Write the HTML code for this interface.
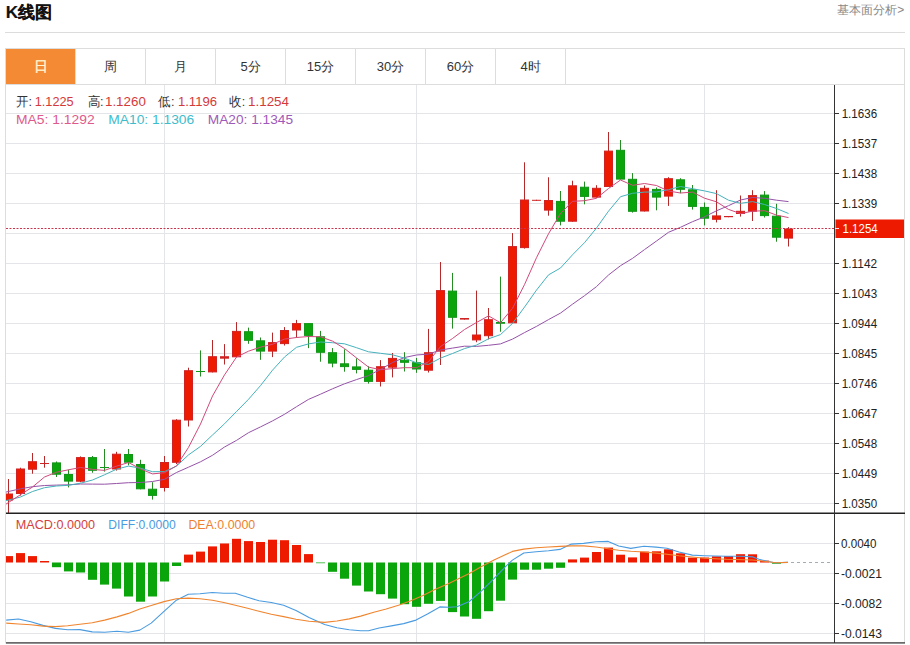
<!DOCTYPE html><html><head><meta charset="utf-8"><style>
html,body{margin:0;padding:0;background:#fff;width:910px;height:645px;overflow:hidden}
svg{display:block}
text{font-family:"Liberation Sans",sans-serif}
</style></head><body>
<svg width="910" height="645" viewBox="0 0 910 645">
<rect x="0" y="0" width="910" height="645" fill="#fff"/>

<text x="5.8" y="18.2" font-size="17" font-weight="bold" fill="#111" stroke="#111" stroke-width="0.15" textLength="46.5" lengthAdjust="spacingAndGlyphs">K线图</text>
<text x="837.3" y="14.4" font-size="12" fill="#888" textLength="67" lengthAdjust="spacingAndGlyphs">基本面分析&gt;</text>
<rect x="5" y="32" width="900" height="1" fill="#dcdcdc"/>
<rect x="5.5" y="48.5" width="899" height="594.5" fill="none" stroke="#ddd" stroke-width="1"/>
<rect x="6" y="49" width="69" height="35" fill="#f48a34"/>
<line x1="5.5" y1="84.5" x2="904.5" y2="84.5" stroke="#ddd" stroke-width="1"/>
<line x1="75.5" y1="48.5" x2="75.5" y2="84.5" stroke="#ddd"/>
<text x="40.5" y="71.3" font-size="14" fill="#fff6d0" stroke="#fff6d0" stroke-width="0.4" text-anchor="middle">日</text>
<line x1="145.5" y1="48.5" x2="145.5" y2="84.5" stroke="#ddd"/>
<text x="110.5" y="71.3" font-size="13" fill="#333" text-anchor="middle">周</text>
<line x1="215.5" y1="48.5" x2="215.5" y2="84.5" stroke="#ddd"/>
<text x="180.5" y="71.3" font-size="13" fill="#333" text-anchor="middle">月</text>
<line x1="285.5" y1="48.5" x2="285.5" y2="84.5" stroke="#ddd"/>
<text x="250.5" y="71.3" font-size="13" fill="#333" text-anchor="middle">5分</text>
<line x1="355.5" y1="48.5" x2="355.5" y2="84.5" stroke="#ddd"/>
<text x="320.5" y="71.3" font-size="13" fill="#333" text-anchor="middle">15分</text>
<line x1="425.5" y1="48.5" x2="425.5" y2="84.5" stroke="#ddd"/>
<text x="390.5" y="71.3" font-size="13" fill="#333" text-anchor="middle">30分</text>
<line x1="495.5" y1="48.5" x2="495.5" y2="84.5" stroke="#ddd"/>
<text x="460.5" y="71.3" font-size="13" fill="#333" text-anchor="middle">60分</text>
<line x1="565.5" y1="48.5" x2="565.5" y2="84.5" stroke="#ddd"/>
<text x="530.5" y="71.3" font-size="13" fill="#333" text-anchor="middle">4时</text>
<line x1="6" y1="113.5" x2="834" y2="113.5" stroke="#e4e5e9"/>
<line x1="6" y1="143.5" x2="834" y2="143.5" stroke="#e4e5e9"/>
<line x1="6" y1="173.5" x2="834" y2="173.5" stroke="#e4e5e9"/>
<line x1="6" y1="203.5" x2="834" y2="203.5" stroke="#e4e5e9"/>
<line x1="6" y1="233.5" x2="834" y2="233.5" stroke="#e4e5e9"/>
<line x1="6" y1="263.5" x2="834" y2="263.5" stroke="#e4e5e9"/>
<line x1="6" y1="293.5" x2="834" y2="293.5" stroke="#e4e5e9"/>
<line x1="6" y1="323.5" x2="834" y2="323.5" stroke="#e4e5e9"/>
<line x1="6" y1="353.5" x2="834" y2="353.5" stroke="#e4e5e9"/>
<line x1="6" y1="383.5" x2="834" y2="383.5" stroke="#e4e5e9"/>
<line x1="6" y1="413.5" x2="834" y2="413.5" stroke="#e4e5e9"/>
<line x1="6" y1="443.5" x2="834" y2="443.5" stroke="#e4e5e9"/>
<line x1="6" y1="473.5" x2="834" y2="473.5" stroke="#e4e5e9"/>
<line x1="6" y1="503.5" x2="834" y2="503.5" stroke="#e4e5e9"/>
<line x1="164.5" y1="85" x2="164.5" y2="643" stroke="#e4e5e9"/>
<line x1="416.5" y1="85" x2="416.5" y2="643" stroke="#e4e5e9"/>
<line x1="704.5" y1="85" x2="704.5" y2="643" stroke="#e4e5e9"/>
<line x1="6" y1="543.5" x2="834" y2="543.5" stroke="#e4e5e9"/>
<line x1="6" y1="573.5" x2="834" y2="573.5" stroke="#e4e5e9"/>
<line x1="6" y1="603.5" x2="834" y2="603.5" stroke="#e4e5e9"/>
<line x1="6" y1="633.5" x2="834" y2="633.5" stroke="#e4e5e9"/>
<defs><clipPath id="cm"><rect x="6" y="85" width="828" height="428"/></clipPath>
<clipPath id="cd"><rect x="6" y="514" width="828" height="129"/></clipPath></defs>
<g clip-path="url(#cm)">
<rect x="8.0" y="479" width="1" height="34" fill="#b42a2a"/>
<rect x="4.5" y="494.0" width="8" height="6.0" fill="#ee1a00" stroke="#d02222" stroke-width="1"/>
<rect x="20.0" y="467.7" width="1" height="27.900000000000034" fill="#b42a2a"/>
<rect x="16.5" y="469.0" width="8" height="24.5" fill="#ee1a00" stroke="#d02222" stroke-width="1"/>
<rect x="32.0" y="453" width="1" height="20.69999999999999" fill="#b42a2a"/>
<rect x="28.5" y="461.7" width="8" height="7.5" fill="#ee1a00" stroke="#d02222" stroke-width="1"/>
<rect x="44.0" y="456" width="1" height="11.699999999999989" fill="#b42a2a"/>
<rect x="40.0" y="463" width="9" height="1" fill="#d02222"/>
<rect x="56.0" y="461.5" width="1" height="15.5" fill="#238c23"/>
<rect x="52.5" y="462.9" width="8" height="11.300000000000011" fill="#0aa50a" stroke="#13951a" stroke-width="1"/>
<rect x="68.0" y="469.7" width="1" height="17.69999999999999" fill="#238c23"/>
<rect x="64.5" y="474.5" width="8" height="6.600000000000023" fill="#0aa50a" stroke="#13951a" stroke-width="1"/>
<rect x="80.0" y="456.4" width="1" height="25.80000000000001" fill="#b42a2a"/>
<rect x="76.5" y="457.6" width="8" height="23.599999999999966" fill="#ee1a00" stroke="#d02222" stroke-width="1"/>
<rect x="92.0" y="456" width="1" height="16.69999999999999" fill="#238c23"/>
<rect x="88.5" y="457.6" width="8" height="12.699999999999989" fill="#0aa50a" stroke="#13951a" stroke-width="1"/>
<rect x="104.0" y="449" width="1" height="22.600000000000023" fill="#238c23"/>
<rect x="100.0" y="467" width="9" height="1" fill="#13951a"/>
<rect x="116.0" y="451.8" width="1" height="18.80000000000001" fill="#b42a2a"/>
<rect x="112.5" y="454.2" width="8" height="14.800000000000011" fill="#ee1a00" stroke="#d02222" stroke-width="1"/>
<rect x="128.0" y="449" width="1" height="16.30000000000001" fill="#238c23"/>
<rect x="124.5" y="454.5" width="8" height="7.699999999999989" fill="#0aa50a" stroke="#13951a" stroke-width="1"/>
<rect x="140.0" y="459.8" width="1" height="29.5" fill="#238c23"/>
<rect x="136.5" y="464.5" width="8" height="24.30000000000001" fill="#0aa50a" stroke="#13951a" stroke-width="1"/>
<rect x="152.0" y="482.2" width="1" height="17.400000000000034" fill="#238c23"/>
<rect x="148.5" y="489.2" width="8" height="6.199999999999989" fill="#0aa50a" stroke="#13951a" stroke-width="1"/>
<rect x="164.0" y="456" width="1" height="35.5" fill="#b42a2a"/>
<rect x="160.5" y="462.5" width="8" height="25" fill="#ee1a00" stroke="#d02222" stroke-width="1"/>
<rect x="176.0" y="419.2" width="1" height="44.80000000000001" fill="#b42a2a"/>
<rect x="172.5" y="420.2" width="8" height="42.10000000000002" fill="#ee1a00" stroke="#d02222" stroke-width="1"/>
<rect x="188.0" y="367.7" width="1" height="58.80000000000001" fill="#b42a2a"/>
<rect x="184.5" y="370.7" width="8" height="49.30000000000001" fill="#ee1a00" stroke="#d02222" stroke-width="1"/>
<rect x="200.0" y="350.4" width="1" height="26.100000000000023" fill="#238c23"/>
<rect x="196.0" y="371" width="9" height="1" fill="#13951a"/>
<rect x="212.0" y="340" width="1" height="32.39999999999998" fill="#b42a2a"/>
<rect x="208.5" y="356.7" width="8" height="15.199999999999989" fill="#ee1a00" stroke="#d02222" stroke-width="1"/>
<rect x="224.0" y="344.1" width="1" height="20.399999999999977" fill="#b42a2a"/>
<rect x="220.0" y="356.2" width="9" height="2.5" fill="#d02222"/>
<rect x="236.0" y="322.1" width="1" height="35.19999999999999" fill="#b42a2a"/>
<rect x="232.5" y="331.4" width="8" height="25.400000000000034" fill="#ee1a00" stroke="#d02222" stroke-width="1"/>
<rect x="248.0" y="327.6" width="1" height="16.19999999999999" fill="#238c23"/>
<rect x="244.5" y="331.7" width="8" height="8.600000000000023" fill="#0aa50a" stroke="#13951a" stroke-width="1"/>
<rect x="260.0" y="337.5" width="1" height="22.30000000000001" fill="#238c23"/>
<rect x="256.5" y="340.8" width="8" height="10.300000000000011" fill="#0aa50a" stroke="#13951a" stroke-width="1"/>
<rect x="272.0" y="332.6" width="1" height="24.5" fill="#b42a2a"/>
<rect x="268.5" y="342.6" width="8" height="8.5" fill="#ee1a00" stroke="#d02222" stroke-width="1"/>
<rect x="284.0" y="327.1" width="1" height="18.399999999999977" fill="#b42a2a"/>
<rect x="280.5" y="330.5" width="8" height="13.100000000000023" fill="#ee1a00" stroke="#d02222" stroke-width="1"/>
<rect x="296.0" y="319.9" width="1" height="17.80000000000001" fill="#b42a2a"/>
<rect x="292.5" y="323.6" width="8" height="6.399999999999977" fill="#ee1a00" stroke="#d02222" stroke-width="1"/>
<rect x="308.0" y="323.1" width="1" height="25.0" fill="#238c23"/>
<rect x="304.5" y="323.6" width="8" height="11.799999999999955" fill="#0aa50a" stroke="#13951a" stroke-width="1"/>
<rect x="320.0" y="330.9" width="1" height="30.80000000000001" fill="#238c23"/>
<rect x="316.5" y="336.8" width="8" height="15.5" fill="#0aa50a" stroke="#13951a" stroke-width="1"/>
<rect x="332.0" y="348.1" width="1" height="19.19999999999999" fill="#238c23"/>
<rect x="328.5" y="352.7" width="8" height="10.400000000000034" fill="#0aa50a" stroke="#13951a" stroke-width="1"/>
<rect x="344.0" y="349.3" width="1" height="22.399999999999977" fill="#238c23"/>
<rect x="340.5" y="363.8" width="8" height="2.8000000000000114" fill="#0aa50a" stroke="#13951a" stroke-width="1"/>
<rect x="356.0" y="358.3" width="1" height="15.099999999999966" fill="#238c23"/>
<rect x="352.5" y="366.9" width="8" height="2.5" fill="#0aa50a" stroke="#13951a" stroke-width="1"/>
<rect x="368.0" y="366.2" width="1" height="17.400000000000034" fill="#238c23"/>
<rect x="364.5" y="370.2" width="8" height="11.199999999999989" fill="#0aa50a" stroke="#13951a" stroke-width="1"/>
<rect x="380.0" y="360.1" width="1" height="26.399999999999977" fill="#b42a2a"/>
<rect x="376.5" y="366.7" width="8" height="14.699999999999989" fill="#ee1a00" stroke="#d02222" stroke-width="1"/>
<rect x="392.0" y="353" width="1" height="24.399999999999977" fill="#b42a2a"/>
<rect x="388.5" y="358.4" width="8" height="8.800000000000011" fill="#ee1a00" stroke="#d02222" stroke-width="1"/>
<rect x="404.0" y="352.2" width="1" height="19.30000000000001" fill="#238c23"/>
<rect x="400.5" y="360.2" width="8" height="2.1000000000000227" fill="#0aa50a" stroke="#13951a" stroke-width="1"/>
<rect x="416.0" y="357.9" width="1" height="14.900000000000034" fill="#238c23"/>
<rect x="412.5" y="362.7" width="8" height="6.300000000000011" fill="#0aa50a" stroke="#13951a" stroke-width="1"/>
<rect x="428.0" y="328.9" width="1" height="43.60000000000002" fill="#b42a2a"/>
<rect x="424.5" y="352.7" width="8" height="17.5" fill="#ee1a00" stroke="#d02222" stroke-width="1"/>
<rect x="440.0" y="262" width="1" height="103" fill="#b42a2a"/>
<rect x="436.5" y="290.6" width="8" height="60.5" fill="#ee1a00" stroke="#d02222" stroke-width="1"/>
<rect x="452.0" y="272.9" width="1" height="55.700000000000045" fill="#238c23"/>
<rect x="448.5" y="291.1" width="8" height="26.19999999999999" fill="#0aa50a" stroke="#13951a" stroke-width="1"/>
<rect x="464.0" y="318" width="1" height="1.6000000000000227" fill="#b42a2a"/>
<rect x="460.0" y="318" width="9" height="1.6000000000000227" fill="#d02222"/>
<rect x="476.0" y="290.6" width="1" height="51.599999999999966" fill="#b42a2a"/>
<rect x="472.5" y="335.0" width="8" height="4.899999999999977" fill="#ee1a00" stroke="#d02222" stroke-width="1"/>
<rect x="488.0" y="308" width="1" height="31.399999999999977" fill="#b42a2a"/>
<rect x="484.5" y="319.7" width="8" height="16.0" fill="#ee1a00" stroke="#d02222" stroke-width="1"/>
<rect x="500.0" y="276.6" width="1" height="55.099999999999966" fill="#238c23"/>
<rect x="496.0" y="322" width="9" height="1.8000000000000114" fill="#13951a"/>
<rect x="512.0" y="233.1" width="1" height="90.20000000000002" fill="#b42a2a"/>
<rect x="508.5" y="246.6" width="8" height="76.20000000000002" fill="#ee1a00" stroke="#d02222" stroke-width="1"/>
<rect x="524.0" y="162.3" width="1" height="86.29999999999998" fill="#b42a2a"/>
<rect x="520.5" y="200.0" width="8" height="47.599999999999994" fill="#ee1a00" stroke="#d02222" stroke-width="1"/>
<rect x="536.0" y="199.8" width="1" height="1.0" fill="#b42a2a"/>
<rect x="532.0" y="199.8" width="9" height="1.0" fill="#d02222"/>
<rect x="548.0" y="177.3" width="1" height="38.39999999999998" fill="#b42a2a"/>
<rect x="544.5" y="200.5" width="8" height="9.599999999999994" fill="#ee1a00" stroke="#d02222" stroke-width="1"/>
<rect x="560.0" y="191" width="1" height="34.400000000000006" fill="#238c23"/>
<rect x="556.5" y="201.4" width="8" height="19.799999999999983" fill="#0aa50a" stroke="#13951a" stroke-width="1"/>
<rect x="572.0" y="180.7" width="1" height="41.0" fill="#b42a2a"/>
<rect x="568.5" y="185.8" width="8" height="35.39999999999998" fill="#ee1a00" stroke="#d02222" stroke-width="1"/>
<rect x="584.0" y="181.6" width="1" height="22.700000000000017" fill="#238c23"/>
<rect x="580.5" y="187.2" width="8" height="9.200000000000017" fill="#0aa50a" stroke="#13951a" stroke-width="1"/>
<rect x="596.0" y="185.2" width="1" height="12.400000000000006" fill="#b42a2a"/>
<rect x="592.5" y="188.3" width="8" height="8.799999999999983" fill="#ee1a00" stroke="#d02222" stroke-width="1"/>
<rect x="608.0" y="132" width="1" height="55" fill="#b42a2a"/>
<rect x="604.5" y="151.1" width="8" height="35.400000000000006" fill="#ee1a00" stroke="#d02222" stroke-width="1"/>
<rect x="620.0" y="140" width="1" height="39.599999999999994" fill="#238c23"/>
<rect x="616.5" y="150.3" width="8" height="28.799999999999983" fill="#0aa50a" stroke="#13951a" stroke-width="1"/>
<rect x="632.0" y="173.1" width="1" height="39.5" fill="#238c23"/>
<rect x="628.5" y="179.3" width="8" height="32.0" fill="#0aa50a" stroke="#13951a" stroke-width="1"/>
<rect x="644.0" y="185.5" width="1" height="26.0" fill="#b42a2a"/>
<rect x="640.5" y="188.3" width="8" height="22.69999999999999" fill="#ee1a00" stroke="#d02222" stroke-width="1"/>
<rect x="656.0" y="187.5" width="1" height="22.80000000000001" fill="#238c23"/>
<rect x="652.5" y="189.4" width="8" height="7.699999999999989" fill="#0aa50a" stroke="#13951a" stroke-width="1"/>
<rect x="668.0" y="177.2" width="1" height="28.700000000000017" fill="#b42a2a"/>
<rect x="664.5" y="178.7" width="8" height="17.400000000000006" fill="#ee1a00" stroke="#d02222" stroke-width="1"/>
<rect x="680.0" y="178.2" width="1" height="15.0" fill="#238c23"/>
<rect x="676.5" y="179.8" width="8" height="9.5" fill="#0aa50a" stroke="#13951a" stroke-width="1"/>
<rect x="692.0" y="185" width="1" height="24.599999999999994" fill="#238c23"/>
<rect x="688.5" y="189.8" width="8" height="16.599999999999994" fill="#0aa50a" stroke="#13951a" stroke-width="1"/>
<rect x="704.0" y="202.5" width="1" height="22.900000000000006" fill="#238c23"/>
<rect x="700.5" y="207.4" width="8" height="10.799999999999983" fill="#0aa50a" stroke="#13951a" stroke-width="1"/>
<rect x="716.0" y="190.2" width="1" height="32.20000000000002" fill="#b42a2a"/>
<rect x="712.5" y="215.9" width="8" height="3.4000000000000057" fill="#ee1a00" stroke="#d02222" stroke-width="1"/>
<rect x="728.0" y="216" width="1" height="1.1999999999999886" fill="#b42a2a"/>
<rect x="724.0" y="216" width="9" height="1.1999999999999886" fill="#d02222"/>
<rect x="740.0" y="195.5" width="1" height="21.099999999999994" fill="#b42a2a"/>
<rect x="736.5" y="211.3" width="8" height="2.1999999999999886" fill="#ee1a00" stroke="#d02222" stroke-width="1"/>
<rect x="752.0" y="190.2" width="1" height="30.80000000000001" fill="#b42a2a"/>
<rect x="748.5" y="195.6" width="8" height="15.599999999999994" fill="#ee1a00" stroke="#d02222" stroke-width="1"/>
<rect x="764.0" y="191.1" width="1" height="26.400000000000006" fill="#238c23"/>
<rect x="760.5" y="195.1" width="8" height="20.5" fill="#0aa50a" stroke="#13951a" stroke-width="1"/>
<rect x="776.0" y="203.8" width="1" height="37.89999999999998" fill="#238c23"/>
<rect x="772.5" y="216.2" width="8" height="21.0" fill="#0aa50a" stroke="#13951a" stroke-width="1"/>
<rect x="788.0" y="227.1" width="1" height="19.400000000000006" fill="#b42a2a"/>
<rect x="784.5" y="229.0" width="8" height="9.099999999999994" fill="#ee1a00" stroke="#d02222" stroke-width="1"/>
<polyline points="-3.5,494.2 8.5,491.5 20.5,488.8 32.5,486.7 44.5,485.5 56.5,485.1 68.5,484.8 80.5,484.0 92.5,484.1 104.5,484.2 116.5,483.5 128.5,482.7 140.5,482.5 152.5,481.5 164.5,479.3 176.5,472.5 188.5,467.2 200.5,461.8 212.5,455.3 224.5,447.0 236.5,440.4 248.5,432.7 260.5,426.9 272.5,420.9 284.5,414.3 296.5,406.7 308.5,399.4 320.5,394.2 332.5,388.8 344.5,383.8 356.5,379.6 368.5,375.6 380.5,369.4 392.5,362.5 404.5,357.5 416.5,355.0 428.5,354.1 440.5,350.0 452.5,348.1 464.5,346.2 476.5,346.4 488.5,345.3 500.5,343.9 512.5,339.1 524.5,332.6 536.5,326.4 548.5,319.6 560.5,313.1 572.5,304.2 584.5,295.7 596.5,286.6 608.5,275.0 620.5,265.7 632.5,258.4 644.5,249.6 656.5,241.0 668.5,232.3 680.5,227.3 692.5,221.7 704.5,216.8 716.5,210.8 728.5,205.7 740.5,200.0 752.5,197.5 764.5,198.3 776.5,200.2 788.5,201.6" fill="none" stroke="#9552a8" stroke-width="1" stroke-linejoin="round"/>
<polyline points="-3.5,503.0 8.5,500.0 20.5,497.0 32.5,491.5 44.5,487.7 56.5,486.0 68.5,485.3 80.5,483.2 92.5,480.0 104.5,474.8 116.5,469.2 128.5,466.1 140.5,468.2 152.5,471.7 164.5,471.6 176.5,466.1 188.5,454.9 200.5,446.4 212.5,435.0 224.5,423.8 236.5,411.5 248.5,399.3 260.5,385.6 272.5,370.2 284.5,357.0 296.5,347.3 308.5,343.9 320.5,342.0 332.5,342.7 344.5,343.8 356.5,347.7 368.5,351.8 380.5,353.3 392.5,354.8 404.5,358.1 416.5,362.8 428.5,364.4 440.5,358.1 452.5,353.5 464.5,348.6 476.5,345.1 488.5,338.8 500.5,334.6 512.5,323.4 524.5,307.1 536.5,290.1 548.5,274.9 560.5,268.0 572.5,254.8 584.5,242.7 596.5,228.0 608.5,211.2 620.5,196.7 632.5,193.3 644.5,192.1 656.5,191.9 668.5,189.7 680.5,186.5 692.5,188.7 704.5,190.9 716.5,193.6 728.5,200.2 740.5,203.3 752.5,201.6 764.5,204.5 776.5,208.5 788.5,213.5" fill="none" stroke="#45b2bc" stroke-width="1" stroke-linejoin="round"/>
<polyline points="-3.5,510.3 8.5,502.5 20.5,494.7 32.5,487.0 44.5,477.0 56.5,472.2 68.5,469.8 80.5,467.5 92.5,469.4 104.5,470.4 116.5,466.2 128.5,462.5 140.5,468.9 152.5,473.9 164.5,472.7 176.5,465.9 188.5,447.4 200.5,424.0 212.5,396.0 224.5,374.9 236.5,357.1 248.5,351.2 260.5,347.1 272.5,344.3 284.5,339.1 296.5,337.5 308.5,336.5 320.5,336.8 332.5,341.1 344.5,348.5 356.5,357.9 368.5,367.1 380.5,369.7 392.5,368.6 404.5,367.7 416.5,367.7 428.5,361.7 440.5,346.5 452.5,338.5 464.5,329.5 476.5,322.5 488.5,315.9 500.5,322.7 512.5,308.3 524.5,284.6 536.5,257.7 548.5,233.8 560.5,213.4 572.5,201.3 584.5,200.7 596.5,198.3 608.5,188.5 620.5,180.0 632.5,185.3 644.5,183.5 656.5,185.5 668.5,191.0 680.5,193.0 692.5,192.1 704.5,198.2 716.5,201.8 728.5,209.4 740.5,213.6 752.5,211.2 764.5,210.7 776.5,215.1 788.5,217.6" fill="none" stroke="#d2497c" stroke-width="1" stroke-linejoin="round"/>
</g>
<line x1="6" y1="228.5" x2="834" y2="228.5" stroke="#c8364e" stroke-width="1" stroke-dasharray="2,1.5"/>
<rect x="6" y="512.5" width="899" height="1.5" fill="#222"/>
<rect x="834" y="85" width="1" height="558" fill="#333"/>
<rect x="6" y="642.3" width="899" height="1.2" fill="#333"/>
<rect x="835" y="113" width="4" height="1" fill="#333"/>
<text x="841.7" y="117.5" font-size="12" fill="#222" textLength="35.4" lengthAdjust="spacingAndGlyphs">1.1636</text>
<rect x="835" y="143" width="4" height="1" fill="#333"/>
<text x="841.7" y="147.5" font-size="12" fill="#222" textLength="35.4" lengthAdjust="spacingAndGlyphs">1.1537</text>
<rect x="835" y="173" width="4" height="1" fill="#333"/>
<text x="841.7" y="177.5" font-size="12" fill="#222" textLength="35.4" lengthAdjust="spacingAndGlyphs">1.1438</text>
<rect x="835" y="203" width="4" height="1" fill="#333"/>
<text x="841.7" y="207.5" font-size="12" fill="#222" textLength="35.4" lengthAdjust="spacingAndGlyphs">1.1339</text>
<rect x="835" y="263" width="4" height="1" fill="#333"/>
<text x="841.7" y="267.5" font-size="12" fill="#222" textLength="35.4" lengthAdjust="spacingAndGlyphs">1.1142</text>
<rect x="835" y="293" width="4" height="1" fill="#333"/>
<text x="841.7" y="297.5" font-size="12" fill="#222" textLength="35.4" lengthAdjust="spacingAndGlyphs">1.1043</text>
<rect x="835" y="323" width="4" height="1" fill="#333"/>
<text x="841.7" y="327.5" font-size="12" fill="#222" textLength="35.4" lengthAdjust="spacingAndGlyphs">1.0944</text>
<rect x="835" y="353" width="4" height="1" fill="#333"/>
<text x="841.7" y="357.5" font-size="12" fill="#222" textLength="35.4" lengthAdjust="spacingAndGlyphs">1.0845</text>
<rect x="835" y="383" width="4" height="1" fill="#333"/>
<text x="841.7" y="387.5" font-size="12" fill="#222" textLength="35.4" lengthAdjust="spacingAndGlyphs">1.0746</text>
<rect x="835" y="413" width="4" height="1" fill="#333"/>
<text x="841.7" y="417.5" font-size="12" fill="#222" textLength="35.4" lengthAdjust="spacingAndGlyphs">1.0647</text>
<rect x="835" y="443" width="4" height="1" fill="#333"/>
<text x="841.7" y="447.5" font-size="12" fill="#222" textLength="35.4" lengthAdjust="spacingAndGlyphs">1.0548</text>
<rect x="835" y="473" width="4" height="1" fill="#333"/>
<text x="841.7" y="477.5" font-size="12" fill="#222" textLength="35.4" lengthAdjust="spacingAndGlyphs">1.0449</text>
<rect x="835" y="503" width="4" height="1" fill="#333"/>
<text x="841.7" y="507.5" font-size="12" fill="#222" textLength="35.4" lengthAdjust="spacingAndGlyphs">1.0350</text>
<rect x="835.5" y="219.5" width="68.5" height="18.5" fill="#ee1a00"/>
<rect x="835" y="228" width="4" height="1" fill="#fde"/>
<text x="842.5" y="233" font-size="12" fill="#fff" textLength="35.2" lengthAdjust="spacingAndGlyphs">1.1254</text>
<rect x="835" y="543" width="4" height="1" fill="#333"/>
<text x="841" y="547.5" font-size="12" fill="#222" textLength="35.5" lengthAdjust="spacingAndGlyphs">0.0040</text>
<rect x="835" y="573" width="4" height="1" fill="#333"/>
<text x="841" y="577.5" font-size="12" fill="#222" textLength="41" lengthAdjust="spacingAndGlyphs">-0.0021</text>
<rect x="835" y="603" width="4" height="1" fill="#333"/>
<text x="841" y="607.5" font-size="12" fill="#222" textLength="41" lengthAdjust="spacingAndGlyphs">-0.0082</text>
<rect x="835" y="633" width="4" height="1" fill="#333"/>
<text x="841" y="637.5" font-size="12" fill="#222" textLength="41" lengthAdjust="spacingAndGlyphs">-0.0143</text>
<g clip-path="url(#cd)">
<rect x="4.0" y="556.1" width="9" height="6.4" fill="#ee1a00"/>
<rect x="16.0" y="553.1" width="9" height="9.4" fill="#ee1a00"/>
<rect x="28.0" y="556.1" width="9" height="6.4" fill="#ee1a00"/>
<rect x="40.0" y="561.0" width="9" height="1.5" fill="#ee1a00"/>
<rect x="52.0" y="562.5" width="9" height="4.7" fill="#0aa50a"/>
<rect x="64.0" y="562.5" width="9" height="8.9" fill="#0aa50a"/>
<rect x="76.0" y="562.5" width="9" height="10.0" fill="#0aa50a"/>
<rect x="88.0" y="562.5" width="9" height="17.3" fill="#0aa50a"/>
<rect x="100.0" y="562.5" width="9" height="22.1" fill="#0aa50a"/>
<rect x="112.0" y="562.5" width="9" height="26.1" fill="#0aa50a"/>
<rect x="124.0" y="562.5" width="9" height="34.0" fill="#0aa50a"/>
<rect x="136.0" y="562.5" width="9" height="39.2" fill="#0aa50a"/>
<rect x="148.0" y="562.5" width="9" height="34.0" fill="#0aa50a"/>
<rect x="160.0" y="562.5" width="9" height="19.0" fill="#0aa50a"/>
<rect x="172.0" y="562.5" width="9" height="3.5" fill="#0aa50a"/>
<rect x="184.0" y="554.6" width="9" height="7.9" fill="#ee1a00"/>
<rect x="196.0" y="551.6" width="9" height="10.9" fill="#ee1a00"/>
<rect x="208.0" y="546.4" width="9" height="16.1" fill="#ee1a00"/>
<rect x="220.0" y="543.5" width="9" height="19.0" fill="#ee1a00"/>
<rect x="232.0" y="538.8" width="9" height="23.7" fill="#ee1a00"/>
<rect x="244.0" y="541.1" width="9" height="21.4" fill="#ee1a00"/>
<rect x="256.0" y="542.0" width="9" height="20.5" fill="#ee1a00"/>
<rect x="268.0" y="539.7" width="9" height="22.8" fill="#ee1a00"/>
<rect x="280.0" y="540.2" width="9" height="22.3" fill="#ee1a00"/>
<rect x="292.0" y="545.0" width="9" height="17.5" fill="#ee1a00"/>
<rect x="304.0" y="554.1" width="9" height="8.4" fill="#ee1a00"/>
<rect x="316.0" y="562.5" width="9" height="0.7" fill="#0aa50a"/>
<rect x="328.0" y="562.5" width="9" height="9.3" fill="#0aa50a"/>
<rect x="340.0" y="562.5" width="9" height="16.2" fill="#0aa50a"/>
<rect x="352.0" y="562.5" width="9" height="23.1" fill="#0aa50a"/>
<rect x="364.0" y="562.5" width="9" height="29.0" fill="#0aa50a"/>
<rect x="376.0" y="562.5" width="9" height="31.7" fill="#0aa50a"/>
<rect x="388.0" y="562.5" width="9" height="36.1" fill="#0aa50a"/>
<rect x="400.0" y="562.5" width="9" height="41.7" fill="#0aa50a"/>
<rect x="412.0" y="562.5" width="9" height="44.3" fill="#0aa50a"/>
<rect x="424.0" y="562.5" width="9" height="41.3" fill="#0aa50a"/>
<rect x="436.0" y="562.5" width="9" height="38.4" fill="#0aa50a"/>
<rect x="448.0" y="562.5" width="9" height="49.6" fill="#0aa50a"/>
<rect x="460.0" y="562.5" width="9" height="54.0" fill="#0aa50a"/>
<rect x="472.0" y="562.5" width="9" height="56.3" fill="#0aa50a"/>
<rect x="484.0" y="562.5" width="9" height="48.7" fill="#0aa50a"/>
<rect x="496.0" y="562.5" width="9" height="38.2" fill="#0aa50a"/>
<rect x="508.0" y="562.5" width="9" height="17.1" fill="#0aa50a"/>
<rect x="520.0" y="562.5" width="9" height="7.2" fill="#0aa50a"/>
<rect x="532.0" y="562.5" width="9" height="7.2" fill="#0aa50a"/>
<rect x="544.0" y="562.5" width="9" height="6.2" fill="#0aa50a"/>
<rect x="556.0" y="562.5" width="9" height="5.3" fill="#0aa50a"/>
<rect x="568.0" y="559.4" width="9" height="3.1" fill="#ee1a00"/>
<rect x="580.0" y="557.6" width="9" height="4.9" fill="#ee1a00"/>
<rect x="592.0" y="552.0" width="9" height="10.5" fill="#ee1a00"/>
<rect x="604.0" y="547.6" width="9" height="14.9" fill="#ee1a00"/>
<rect x="616.0" y="554.7" width="9" height="7.8" fill="#ee1a00"/>
<rect x="628.0" y="557.4" width="9" height="5.1" fill="#ee1a00"/>
<rect x="640.0" y="551.6" width="9" height="10.9" fill="#ee1a00"/>
<rect x="652.0" y="551.3" width="9" height="11.2" fill="#ee1a00"/>
<rect x="664.0" y="549.3" width="9" height="13.2" fill="#ee1a00"/>
<rect x="676.0" y="553.3" width="9" height="9.2" fill="#ee1a00"/>
<rect x="688.0" y="557.6" width="9" height="4.9" fill="#ee1a00"/>
<rect x="700.0" y="557.5" width="9" height="5.0" fill="#ee1a00"/>
<rect x="712.0" y="556.3" width="9" height="6.2" fill="#ee1a00"/>
<rect x="724.0" y="556.0" width="9" height="6.5" fill="#ee1a00"/>
<rect x="736.0" y="554.2" width="9" height="8.3" fill="#ee1a00"/>
<rect x="748.0" y="554.3" width="9" height="8.2" fill="#ee1a00"/>
<rect x="760.0" y="560.6" width="9" height="1.9" fill="#ee1a00"/>
<rect x="772.0" y="562.5" width="9" height="1.2" fill="#0aa50a"/>
<line x1="791" y1="562.5" x2="832" y2="562.5" stroke="#a4adb3" stroke-dasharray="3,3"/>
<polyline points="6.2,620.1 18.5,619 30.8,621.8 43,625.4 55.4,628.4 67.7,629.8 80,629.6 92.3,631.9 104.6,632.2 117,631.3 128.4,632.2 139.8,630.1 151.2,623.1 164,611.3 176.4,600.2 188.3,594.3 200,593.7 212.4,592.5 223.8,593.2 235.3,593.2 247.6,597.3 259,600.8 271.3,602.5 283.6,605.2 296,610.4 309,617.5 324.6,624.5 336.9,627.7 349.2,629.8 360.7,630.7 368.6,630.7 379.1,628 391.4,625.9 403.7,623.6 416,620.1 427.5,614 439.8,606.9 449.5,607.3 457,606.7 469.3,601.5 481.6,590.9 494,578.6 506.3,565.8 512.4,560.1 523.8,553 536.2,551.7 548.5,550.8 560,549.4 571.3,544.1 583.6,543.4 596,541.7 608.2,541.4 618.7,546 630.8,548.4 644,546.2 656,547.1 667,548.2 679,552 692.3,555.1 704.5,555.7 726.3,556.3 740.8,556.3 752.9,556.9 759,559.3 768.6,561.5 774.6,562.7 788,562.4" fill="none" stroke="#4a9be0" stroke-width="1.1" stroke-linejoin="round"/>
<polyline points="6.2,623.1 18.5,624 30.8,624.8 43,626.1 55.4,626.6 67.7,625.7 80,624.3 92.3,622.7 104.6,620.1 117,616.9 128.4,613.4 139.8,609 151.2,605.5 164,601.6 176.4,598.7 188.3,598.1 200,598.7 212.4,600.2 223.8,602.5 235.3,605.2 247.6,608.3 259,611.3 271.3,614.3 283.6,616.6 296,619.2 309,621.2 324.6,622.4 336.9,621 349.2,618.9 360.7,616.1 373.8,612.2 386.2,609 398.5,605.2 410.8,600.8 423,595.5 435.4,589.3 447.7,584.1 460,577.9 469.3,573.5 481.6,566.6 494,560.1 506.3,554.3 512.4,551.4 523.8,549.1 536.2,547.7 548.5,547 560,546.4 571.3,545.9 583.6,545.9 596,547 608.2,548.7 618.7,550.2 630.8,551.3 644,552 656,553.1 667,554.2 679,555.7 692.3,557 704.5,558.2 726.3,559.3 752.9,560 764,561.2 776,562.7 788,562.4" fill="none" stroke="#f0852f" stroke-width="1.1" stroke-linejoin="round"/>
</g>
<text x="16" y="105.5" font-size="13" fill="#333" textLength="16" lengthAdjust="spacingAndGlyphs">开:</text>
<text x="34.7" y="105.5" font-size="13" fill="#d43a3a" textLength="39" lengthAdjust="spacingAndGlyphs">1.1225</text>
<text x="87.5" y="105.5" font-size="13" fill="#333" textLength="16" lengthAdjust="spacingAndGlyphs">高:</text>
<text x="105" y="105.5" font-size="13" fill="#d43a3a" textLength="40.8" lengthAdjust="spacingAndGlyphs">1.1260</text>
<text x="158.4" y="105.5" font-size="13" fill="#333" textLength="16" lengthAdjust="spacingAndGlyphs">低:</text>
<text x="177.9" y="105.5" font-size="13" fill="#d43a3a" textLength="39.1" lengthAdjust="spacingAndGlyphs">1.1196</text>
<text x="229.3" y="105.5" font-size="13" fill="#333" textLength="16" lengthAdjust="spacingAndGlyphs">收:</text>
<text x="248" y="105.5" font-size="13" fill="#d43a3a" textLength="41" lengthAdjust="spacingAndGlyphs">1.1254</text>
<text x="16" y="123.7" font-size="13" fill="#df5a8c" textLength="78.6" lengthAdjust="spacingAndGlyphs">MA5: 1.1292</text>
<text x="108.3" y="123.7" font-size="13" fill="#3fbccb" textLength="85.9" lengthAdjust="spacingAndGlyphs">MA10: 1.1306</text>
<text x="207.8" y="123.7" font-size="13" fill="#9e5ab8" textLength="85.2" lengthAdjust="spacingAndGlyphs">MA20: 1.1345</text>
<text x="15.8" y="528.8" font-size="12.5" fill="#d44040" textLength="79.2" lengthAdjust="spacingAndGlyphs">MACD:0.0000</text>
<text x="108.3" y="528.8" font-size="12.5" fill="#4a9be0" textLength="67.4" lengthAdjust="spacingAndGlyphs">DIFF:0.0000</text>
<text x="188.4" y="528.8" font-size="12.5" fill="#ee7f30" textLength="66.8" lengthAdjust="spacingAndGlyphs">DEA:0.0000</text>
</svg></body></html>
